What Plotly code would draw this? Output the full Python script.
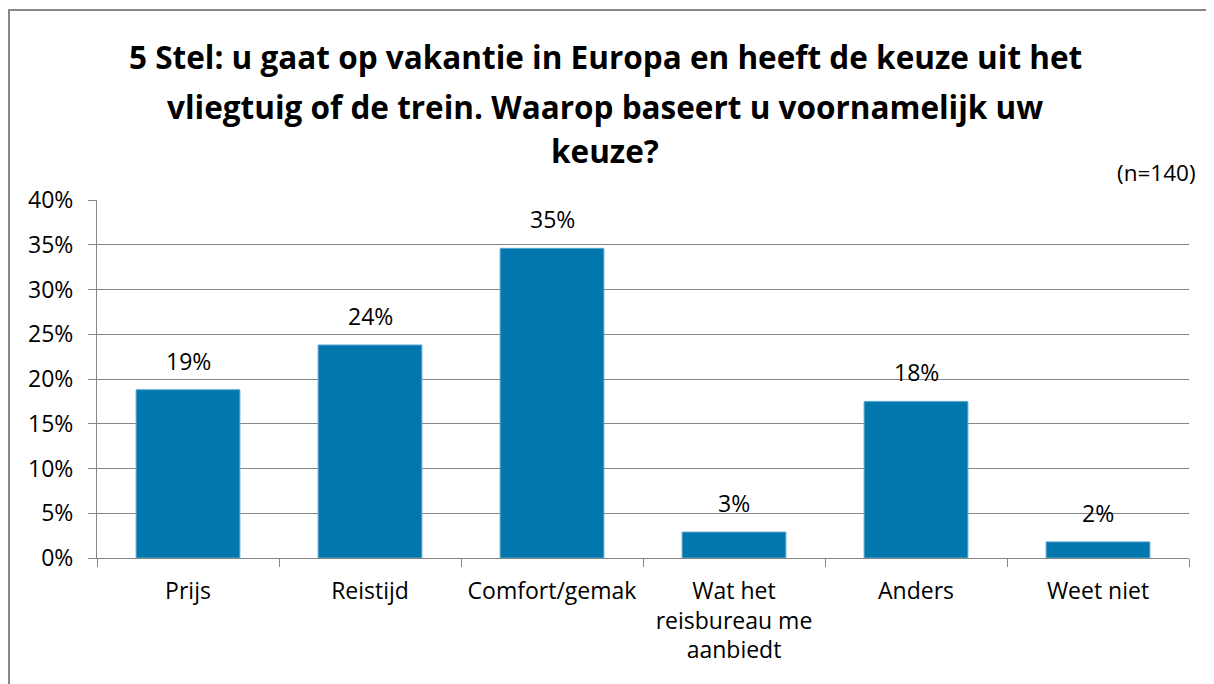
import plotly.graph_objects as go

categories = ["Prijs", "Reistijd", "Comfort/gemak", "Wat het<br>reisbureau me<br>aanbiedt", "Anders", "Weet niet"]
values = [18.8, 23.8, 34.6, 2.9, 17.5, 1.8]
labels = ["19%", "24%", "35%", "3%", "18%", "2%"]
y_ticks = [0, 5, 10, 15, 20, 25, 30, 35, 40]
y_tick_text = [f"{v}%" for v in y_ticks]
title_lines = [
    "5 Stel: u gaat op vakantie in Europa en heeft de keuze uit het",
    "vliegtuig of de trein. Waarop baseert u voornamelijk uw",
    "keuze?",
]
n_note = "(n=140)"

FONT = "Open Sans"
GRID = "#868686"

# page has an 8px body margin; plot area placed so it lands where the reference has it
L, T, PW, PH = 89, 192, 1092, 358
B = 684 - T - PH
R = 1214 - L - PW


def px(xs):
    return (xs - 8 - L) / PW


def py(ys):
    return (T + PH - (ys - 8)) / PH


fig = go.Figure()
fig.add_trace(go.Bar(
    x=categories, y=values,
    marker=dict(color="#0177AE", line=dict(color="#5AA6D0", width=1)),
    width=0.57,
    hoverinfo="skip",
))

ann = []
for c, v, t in zip(categories, values, labels):
    ann.append(dict(x=c, y=v, xref="x", yref="y", text=t, showarrow=False,
                    yanchor="bottom", yshift=11, font=dict(family=FONT, size=23, color="#000")))

title_y = [56, 107, 150]
for line, yy in zip(title_lines, title_y):
    ann.append(dict(x=px(605), y=py(yy), xref="paper", yref="paper", text=f"<b>{line}</b>",
                    showarrow=False, xanchor="center", yanchor="middle",
                    font=dict(family=FONT, size=31.5, color="#000")))
ann.append(dict(x=px(1198), y=py(172), xref="paper", yref="paper", text=n_note, showarrow=False,
                xanchor="right", yanchor="middle",
                font=dict(family=FONT, size=22.5, color="#000")))

fig.update_layout(
    width=1214, height=684,
    margin=dict(l=L, r=R, t=T, b=B),
    paper_bgcolor="white", plot_bgcolor="white",
    showlegend=False,
    annotations=ann,
    shapes=[dict(type="rect", xref="paper", yref="paper",
                 x0=px(9), x1=px(1240), y0=py(710), y1=py(10),
                 line=dict(color=GRID, width=2), fillcolor="rgba(0,0,0,0)", layer="below")],
)
fig.update_xaxes(
    showline=True, linecolor=GRID, linewidth=1,
    ticks="outside", tickson="boundaries", ticklen=8, tickcolor=GRID,
    tickfont=dict(family=FONT, size=23, color="#000"),
    ticklabelstandoff=12,
    showgrid=False, fixedrange=True,
)
fig.update_yaxes(
    range=[0, 40], tickvals=y_ticks, ticktext=y_tick_text,
    showline=True, linecolor=GRID, linewidth=1,
    ticks="outside", ticklen=8, tickcolor=GRID,
    showgrid=True, gridcolor=GRID, gridwidth=1,
    tickfont=dict(family=FONT, size=23, color="#000"),
    ticklabelstandoff=10,
    zeroline=False, fixedrange=True,
)

fig.write_html("out.html")
